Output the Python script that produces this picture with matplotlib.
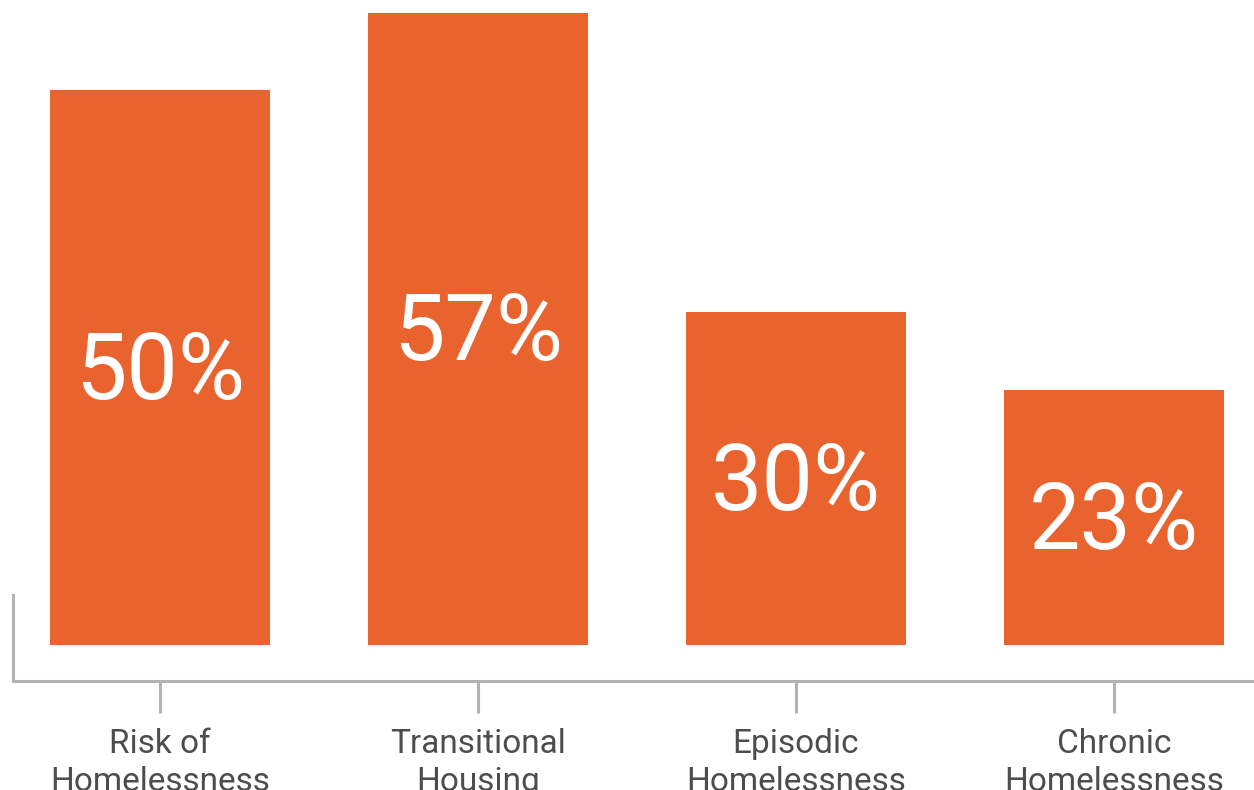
import matplotlib
matplotlib.use("Agg")
import matplotlib.pyplot as plt

categories = ["Risk of\nHomelessness", "Transitional\nHousing", "Episodic\nHomelessness", "Chronic\nHomelessness"]
values = [50, 57, 30, 23]
labels = ["50%", "57%", "30%", "23%"]

plt.rcParams['font.family'] = ['Roboto', 'DejaVu Sans']

W, H = 1254, 790
fig = plt.figure(figsize=(W / 100, H / 100), dpi=100)
ax = fig.add_axes([13 / W, (H - 681) / H, (W - 13) / W, 681 / H])

orange = "#E9632F"
grey = "#B3B3B3"
x = list(range(len(values)))
bars = ax.bar(x, values, width=220 / 318, color=orange, zorder=2)

for xi, v, lab in zip(x, values, labels):
    ax.text(xi, v / 2 - 0.5, lab, ha="center", va="center", color="white",
            fontsize=66, zorder=3)

ppu = 11.09
ax.set_xlim(-147 / 318, (1254 - 160) / 318)
ax.set_ylim(-36 / ppu, 645 / ppu)

for s in ["top", "right"]:
    ax.spines[s].set_visible(False)
ax.spines["bottom"].set_color(grey)
ax.spines["bottom"].set_linewidth(2.2)
ax.spines["left"].set_color(grey)
ax.spines["left"].set_linewidth(2.2)
ax.spines["left"].set_bounds(-36 / ppu, 50 / ppu)

ax.set_xticks(x)
ax.set_xticklabels(categories, fontsize=24, color="#4D4D4D", linespacing=1.25)
ax.tick_params(axis="x", length=23, width=2.2, color=grey, pad=11)
ax.set_yticks([])

fig.savefig("out.png", dpi=100)
